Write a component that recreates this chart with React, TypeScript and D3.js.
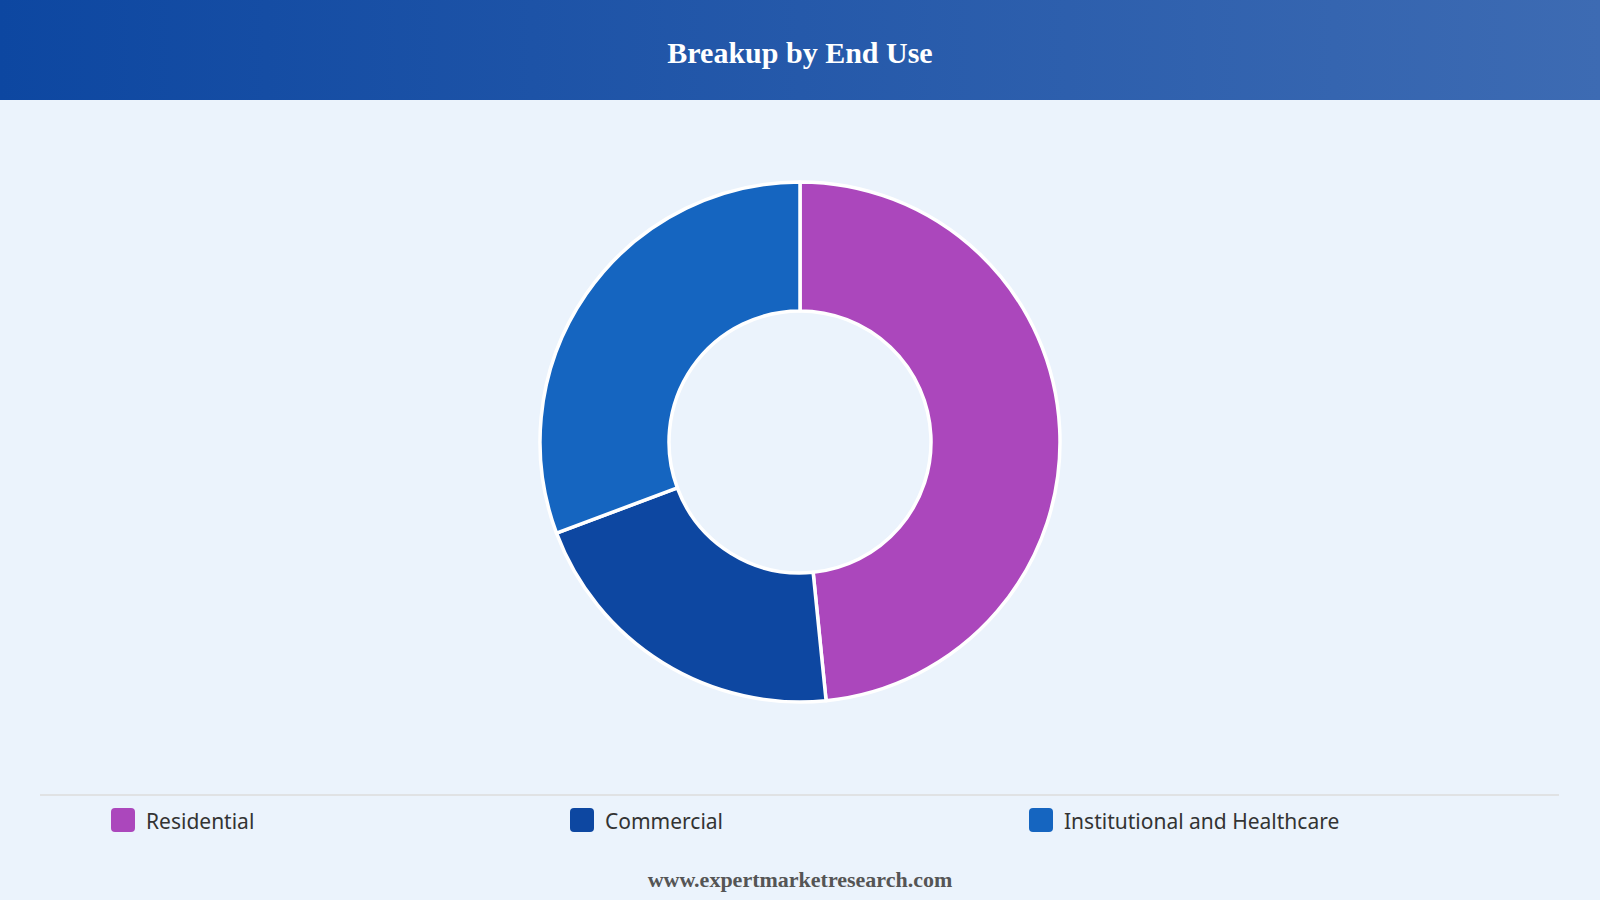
import React from "react";
import * as d3 from "d3";

const categories = ["Residential", "Commercial", "Institutional and Healthcare"];
const values = [48.4, 20.9, 30.7];
const colors = ["#ab47bc", "#0d47a1", "#1565c0"];
const title = "Breakup by End Use";
const footer = "www.expertmarketresearch.com";

const W = 1600;
const H = 900;

export default function App() {
  const cx = 800;
  const cy = 442;
  const outerR = 260;
  const innerR = 131;

  const pie = d3
    .pie<number>()
    .value((d) => d)
    .sort(null)
    .startAngle(0)
    .endAngle(2 * Math.PI);
  const arcs = pie(values);
  const arcGen = d3.arc<d3.PieArcDatum<number>>().innerRadius(innerR).outerRadius(outerR);

  const legendX = d3.scalePoint<string>().domain(categories).range([111, 1029]);

  return (
    <svg
      width={W}
      height={H}
      style={{ position: "absolute", left: 0, top: 0, display: "block" }}
    >
      <defs>
        <linearGradient id="hdr" x1="0" y1="0" x2="1" y2="0">
          <stop offset="0%" stopColor="#0d47a1" />
          <stop offset="100%" stopColor="#3d6bb3" />
        </linearGradient>
      </defs>
      <rect x={0} y={0} width={W} height={H} fill="#ebf3fc" />
      <rect x={0} y={0} width={W} height={100} fill="url(#hdr)" />
      <text
        x={W / 2}
        y={63}
        textAnchor="middle"
        fill="#ffffff"
        fontFamily="'Liberation Serif', 'Times New Roman', serif"
        fontWeight="bold"
        fontSize={30}
      >
        {title}
      </text>

      <g transform={`translate(${cx},${cy})`}>
        {arcs.map((a, i) => (
          <path
            key={categories[i]}
            d={arcGen(a) || ""}
            fill={colors[i]}
            stroke="#ffffff"
            strokeWidth={3.5}
            strokeLinejoin="round"
          />
        ))}
      </g>

      <line x1={40} x2={1559} y1={795} y2={795} stroke="#dcdcdc" strokeWidth={1.5} />

      {categories.map((c, i) => {
        const x = legendX(c) as number;
        return (
          <g key={c}>
            <rect x={x} y={808} width={24} height={24} rx={4} ry={4} fill={colors[i]} />
            <text
              x={x + 35}
              y={828.5}
              fill="#333333"
              fontFamily="'Noto Sans', 'Open Sans', sans-serif"
              fontSize={21}
            >
              {c}
            </text>
          </g>
        );
      })}

      <text
        x={W / 2}
        y={887}
        textAnchor="middle"
        fill="#555555"
        fontFamily="'Liberation Serif', 'Times New Roman', serif"
        fontWeight="bold"
        fontSize={22}
      >
        {footer}
      </text>
    </svg>
  );
}
